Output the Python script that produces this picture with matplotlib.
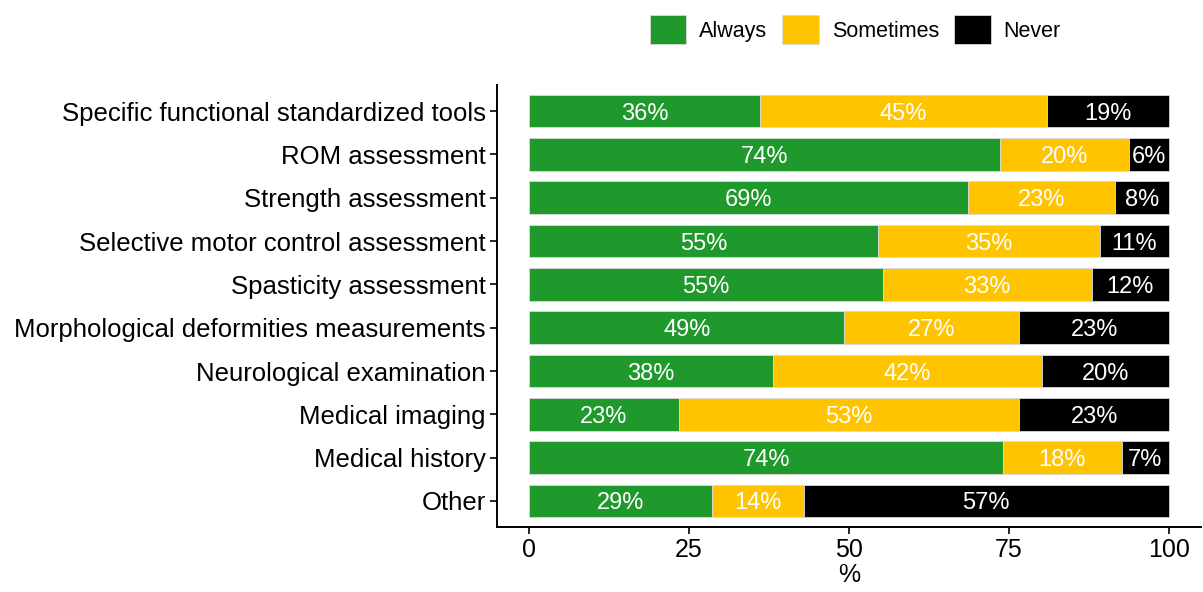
import numpy as np
import matplotlib
matplotlib.use("Agg")
from matplotlib import pyplot as plt
from matplotlib.patches import Patch

plt.rcParams['font.family'] = ['Liberation Sans', 'DejaVu Sans']

categories = ["Specific functional standardized tools", "ROM assessment",
              "Strength assessment", "Selective motor control assessment",
              "Spasticity assessment", "Morphological deformities measurements",
              "Neurological examination", "Medical imaging", "Medical history",
              "Other"]

always = [36.1, 73.6, 68.6, 54.6, 55.3, 49.3, 38.1, 23.4, 74.1, 28.6]
sometimes = [44.9, 20.2, 23.0, 34.6, 32.6, 27.3, 42.0, 53.2, 18.5, 14.3]
never = [19.0, 6.2, 8.4, 10.8, 12.1, 23.4, 19.9, 23.4, 7.4, 57.1]

series = ["Always", "Sometimes", "Never"]
colors = ["#1F992C", "#FFC400", "#000000"]

fig = plt.figure(figsize=(12.03, 5.92), dpi=100)
ax = fig.add_axes([0.4131, 0.1098, 0.5852, 0.7466])

y = np.arange(len(categories))[::-1] + 1
left = np.zeros(len(categories))
for name, vals, col in zip(series, [always, sometimes, never], colors):
    vals = np.array(vals)
    ax.barh(y, vals, left=left, height=0.75, color=col,
            edgecolor="#d9d9d9", linewidth=0.6, label=name)
    # percentage labels in the middle of each segment
    for yi, l, v in zip(y, left, vals):
        ax.text(l + v / 2, yi, f"{v:.0f}%", ha="center", va="center_baseline",
                color="white", fontsize=17)
    left += vals

ax.set_xlim(-5, 105)
ax.set_ylim(0.4, 10.6)
ax.set_yticks(y)
ax.set_yticklabels(categories, fontsize=18.5)
ax.set_xticks([0, 25, 50, 75, 100])
ax.set_xticklabels(["0", "25", "50", "75", "100"], fontsize=18)
ax.set_xlabel("%", fontsize=18, labelpad=1)
for s in ["top", "right"]:
    ax.spines[s].set_visible(False)
for s in ["left", "bottom"]:
    ax.spines[s].set_linewidth(1.4)
ax.tick_params(width=1.2, length=5, color="black", labelcolor="black", pad=3)

handles = [Patch(facecolor=c, edgecolor="#d9d9d9", linewidth=0.6) for c in colors]
fig.legend(handles, series, loc="upper center", bbox_to_anchor=(0.711, 1.0),
           ncol=3, frameon=False, fontsize=15.5, handlelength=1.7,
           handleheight=1.7, handletextpad=0.6, columnspacing=0.7,
           borderaxespad=0.3)

fig.savefig("out.png", dpi=100)
